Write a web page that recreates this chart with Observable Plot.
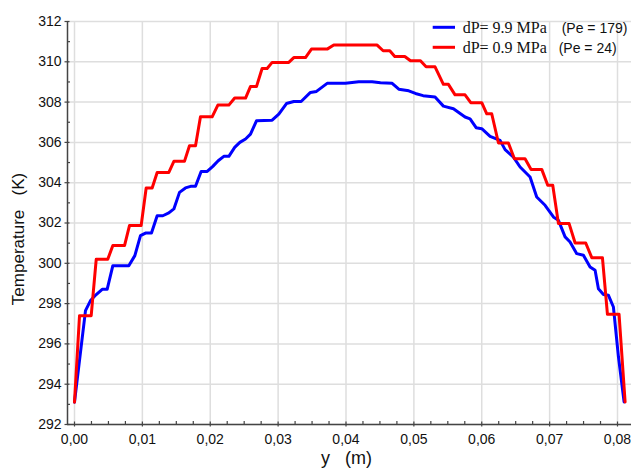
<!DOCTYPE html>
<html><head><meta charset="utf-8">
<script src="https://cdn.jsdelivr.net/npm/d3@7"></script>
<script src="https://cdn.jsdelivr.net/npm/@observablehq/plot@0.6"></script>
<style>
body{margin:0;background:#fff}
#chart{position:relative;width:631px;height:470px}
</style>
</head><body><div id="chart"></div>
<script>
// ---- data ----
const seriesNames = ["dP= 9.9 MPa", "dP= 0.9 MPa"];
const seriesPe = ["(Pe = 179)", "(Pe = 24)"];
const seriesColors = ["#0000ff", "#ff0000"];

const blueY = [0, 0.00162, 0.00236, 0.0032, 0.00408, 0.00481, 0.00565, 0.008, 0.00889, 0.00972, 0.01046, 0.01134, 0.01218, 0.01301, 0.0139, 0.01464, 0.01547, 0.01635, 0.0171, 0.01783, 0.01866, 0.01955, 0.02038, 0.02117, 0.022, 0.02274, 0.0236, 0.02436, 0.0252, 0.02593, 0.02681, 0.02912, 0.0301, 0.03123, 0.03231, 0.03339, 0.03476, 0.03565, 0.03722, 0.03992, 0.04188, 0.04385, 0.04508, 0.0468, 0.04778, 0.04925, 0.05023, 0.05136, 0.05312, 0.05435, 0.05583, 0.05754, 0.05828, 0.05917, 0.06, 0.06123, 0.0627, 0.06344, 0.06467, 0.06565, 0.06712, 0.0681, 0.06933, 0.07056, 0.0713, 0.07228, 0.07301, 0.074, 0.07498, 0.07596, 0.0767, 0.07719, 0.07793, 0.07867, 0.0794, 0.08014, 0.08097];
const blueT = [293.11, 297.65, 298.15, 298.45, 298.71, 298.71, 299.88, 299.88, 300.38, 301.37, 301.5, 301.5, 302.36, 302.36, 302.5, 302.7, 303.52, 303.74, 303.82, 303.82, 304.56, 304.56, 304.81, 305.09, 305.31, 305.31, 305.75, 306.0, 306.17, 306.41, 307.07, 307.1, 307.4, 307.93, 308.03, 308.03, 308.48, 308.53, 308.93, 308.93, 309.01, 309.01, 308.96, 308.93, 308.64, 308.56, 308.43, 308.32, 308.25, 307.8, 307.67, 307.26, 307.17, 306.73, 306.68, 306.3, 306.1, 305.64, 305.27, 304.78, 304.28, 303.29, 302.88, 302.3, 302.13, 301.31, 301.06, 300.48, 300.4, 299.82, 299.65, 298.74, 298.45, 298.41, 297.83, 295.36, 293.12];

const redY = [0, 0.00074, 0.00246, 0.0032, 0.0049, 0.00565, 0.00737, 0.0081, 0.00982, 0.01056, 0.01144, 0.01218, 0.0139, 0.01464, 0.0162, 0.01694, 0.01783, 0.01856, 0.02028, 0.02112, 0.02274, 0.0236, 0.0252, 0.02592, 0.02681, 0.02764, 0.02838, 0.02912, 0.03157, 0.03231, 0.03403, 0.03491, 0.03722, 0.0382, 0.04459, 0.04547, 0.04645, 0.04719, 0.04866, 0.0495, 0.05097, 0.0518, 0.05312, 0.05435, 0.05509, 0.05607, 0.05754, 0.05838, 0.06, 0.06074, 0.06147, 0.06246, 0.06393, 0.06481, 0.06638, 0.06727, 0.06884, 0.06972, 0.07046, 0.0713, 0.07287, 0.07376, 0.07532, 0.07621, 0.07778, 0.07852, 0.08023, 0.08112];
const redT = [293.11, 297.4, 297.4, 300.2, 300.2, 300.88, 300.88, 301.87, 301.87, 303.74, 303.74, 304.51, 304.51, 305.06, 305.06, 305.83, 305.83, 307.27, 307.27, 307.85, 307.85, 308.2, 308.2, 308.77, 308.77, 309.67, 309.67, 309.97, 309.97, 310.21, 310.21, 310.63, 310.63, 310.83, 310.83, 310.55, 310.55, 310.26, 310.26, 310.05, 310.05, 309.75, 309.75, 308.88, 308.88, 308.36, 308.36, 307.97, 307.97, 307.42, 307.42, 305.97, 305.97, 305.19, 305.19, 304.66, 304.66, 303.87, 303.87, 301.97, 301.97, 301.01, 301.01, 300.28, 300.28, 297.47, 297.47, 293.12];

const xTicks = [0, 0.01, 0.02, 0.03, 0.04, 0.05, 0.06, 0.07, 0.08];
const xTickLabels = ["0,00", "0,01", "0,02", "0,03", "0,04", "0,05", "0,06", "0,07", "0,08"];
const xMinorTicks = [0.0025, 0.005, 0.0075, 0.0125, 0.015, 0.0175, 0.0225, 0.025, 0.0275, 0.0325, 0.035, 0.0375, 0.0425, 0.045, 0.0475, 0.0525, 0.055, 0.0575, 0.0625, 0.065, 0.0675, 0.0725, 0.075, 0.0775];
const yTicks = [292, 294, 296, 298, 300, 302, 304, 306, 308, 310, 312];
const yMinorTicks = [293, 295, 297, 299, 301, 303, 305, 307, 309, 311];
const xTitle = "y\u00a0\u00a0\u00a0(m)";
const yTitle = "Temperature\u00a0\u00a0\u00a0(K)";

const xDomain = [-0.001031, 0.082063];
const yDomain = [292, 312];

const blueRows = blueY.map((y, i) => ({y, T: blueT[i]}));
const redRows = redY.map((y, i) => ({y, T: redT[i]}));

const axisColor = "#444";
const gridStyle = {stroke: "#dedede", strokeOpacity: 1, strokeWidth: 1.5};

const plot = Plot.plot({
  width: 631, height: 470,
  marginLeft: 67, marginRight: 0, marginTop: 21, marginBottom: 46,
  style: {fontFamily: "'Liberation Sans', Arial, sans-serif", fontSize: "14px", color: "#111", background: "#fff", overflow: "visible"},
  x: {domain: xDomain},
  y: {domain: yDomain},
  marks: [
    Plot.gridX(xTicks, gridStyle),
    Plot.gridY(yTicks, gridStyle),
    Plot.ruleY([yDomain[0]], {stroke: axisColor, strokeWidth: 1.5}),
    Plot.ruleX([xDomain[0]], {stroke: axisColor, strokeWidth: 1.5}),
    Plot.axisX(xTicks, {tickSize: 5, dy: -2.5, tickFormat: () => "", label: null, stroke: axisColor, strokeWidth: 1.2}),
    Plot.axisX(xMinorTicks, {tickSize: 3, dy: -3, tickFormat: () => "", label: null, stroke: axisColor, strokeWidth: 1.2}),
    Plot.axisX(xTicks, {tickSize: 0, tickPadding: 10, tickFormat: d => xTickLabels[xTicks.indexOf(d)], label: null, fontSize: 14}),
    Plot.axisY(yTicks, {tickSize: 5, dx: 2.5, tickFormat: () => "", label: null, stroke: axisColor, strokeWidth: 1.2}),
    Plot.axisY(yMinorTicks, {tickSize: 3, dx: 3, tickFormat: () => "", label: null, stroke: axisColor, strokeWidth: 1.2}),
    Plot.axisY(yTicks, {tickSize: 0, tickPadding: 6, label: null, fontSize: 14}),
    Plot.line(blueRows, {x: "y", y: "T", stroke: seriesColors[0], strokeWidth: 3}),
    Plot.line(redRows, {x: "y", y: "T", stroke: seriesColors[1], strokeWidth: 3}),
    Plot.text([yTitle], {text: d => d, frameAnchor: "left", textAnchor: "middle", lineAnchor: "middle", rotate: -90, dx: -49, dy: 16, fontSize: 17}),
    Plot.text([xTitle], {text: d => d, frameAnchor: "bottom", textAnchor: "middle", lineAnchor: "middle", dx: -3, dy: 34, fontSize: 18})
  ]
});

document.getElementById("chart").appendChild(plot);

// ---- legend ----
const svg = d3.select(plot);
const leg = svg.append("g").attr("class", "legend").attr("text-anchor", "start");
const rowY = [27.3, 47.3];
const peX = [561.7, 558.7];
seriesNames.forEach((name, i) => {
  leg.append("line").attr("x1", 432.7).attr("x2", 455).attr("y1", rowY[i]).attr("y2", rowY[i])
    .attr("stroke", seriesColors[i]).attr("stroke-width", 3);
  leg.append("text").attr("x", 462.7).attr("y", rowY[i] + 6).attr("text-anchor", "start")
    .attr("font-family", "'Liberation Serif', 'Times New Roman', serif").attr("font-size", 16).attr("fill", "#111")
    .text(name);
  leg.append("text").attr("x", peX[i]).attr("y", rowY[i] + 5.5).attr("text-anchor", "start")
    .attr("font-family", "'Liberation Sans', Arial, sans-serif").attr("font-size", 14).attr("fill", "#111")
    .text(seriesPe[i]);
});
</script>
</body></html>
